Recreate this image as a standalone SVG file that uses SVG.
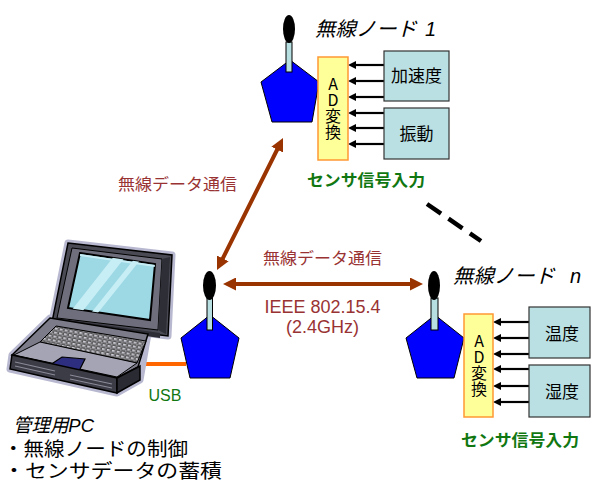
<svg xmlns="http://www.w3.org/2000/svg" width="591" height="487" viewBox="0 0 591 487">
  <style>
    .jp { font-family: "Noto Sans CJK JP", "Liberation Sans", sans-serif; }
    .lat { font-family: "Liberation Sans", "Noto Sans CJK JP", sans-serif; }
    .title { font-size: 20px; font-style: italic; fill: #000; }
    .radio { font-size: 16px; fill: #993333; }
    .sig { font-size: 16px; font-weight: bold; fill: #117711; }
    .sensor { fill: #BBE0E3; stroke: #333; stroke-width: 1.2; }
    .sensor-label { font-size: 17px; fill: #000; text-anchor: middle; }
    .adc { fill: #FFFF99; stroke: #FF9933; stroke-width: 1.5; }
    .adc-label { font-size: 16px; fill: #000; writing-mode: vertical-rl; text-orientation: upright; }
    .body { fill: #0000FF; stroke: #000; stroke-width: 1; }
    .mast { fill: #B7DEE0; stroke: #000; stroke-width: 1; }
    .tip { fill: #000; }
    .sig-line { stroke: #000; stroke-width: 2.2; fill: none; marker-end: url(#sigHead); }
    .link { stroke: #993300; stroke-width: 4; fill: none; marker-start: url(#linkHead); marker-end: url(#linkHead); }
    .pc-text { font-size: 19px; fill: #000; }
  </style>
  <defs>
    <marker id="sigHead" markerUnits="userSpaceOnUse" viewBox="0 0 8 8" markerWidth="8" markerHeight="8" refX="3" refY="4" orient="auto">
      <path d="M0,0 L8,4 L0,8 z" fill="#000"/>
    </marker>
    <marker id="linkHead" markerUnits="userSpaceOnUse" viewBox="0 0 13 13" markerWidth="13" markerHeight="13" refX="4" refY="6.5" orient="auto-start-reverse">
      <path d="M0,0 L13,6.5 L0,13 z" fill="#993300"/>
    </marker>
    <pattern id="keys" width="5" height="4" patternUnits="userSpaceOnUse" patternTransform="rotate(10)">
      <rect width="5" height="4" fill="#D0D0D8"/>
      <rect x="0.6" y="0.6" width="3.6" height="2.6" fill="none" stroke="#333" stroke-width="0.8"/>
    </pattern>
    <clipPath id="screenClip">
      <polygon points="80,253 155,264 150,320 68,308"/>
    </clipPath>
  </defs>

  <!-- radio links -->
  <g id="connectors">
    <line class="link" x1="221" y1="262" x2="279" y2="146"/>
    <line class="link" x1="232" y1="284" x2="414" y2="284"/>
    <line x1="136" y1="364" x2="186" y2="364" stroke="#FF6600" stroke-width="4"/>
    <line x1="427" y1="204" x2="481" y2="241" stroke="#000" stroke-width="4.5" stroke-dasharray="17 9"/>
    <!-- sensor signals into node 1 converter -->
    <line class="sig-line" x1="384" y1="65" x2="353" y2="65"/>
    <line class="sig-line" x1="384" y1="81" x2="353" y2="81"/>
    <line class="sig-line" x1="384" y1="97" x2="353" y2="97"/>
    <line class="sig-line" x1="384" y1="113" x2="353" y2="113"/>
    <line class="sig-line" x1="384" y1="128" x2="353" y2="128"/>
    <line class="sig-line" x1="384" y1="144" x2="353" y2="144"/>
    <!-- sensor signals into node n converter -->
    <line class="sig-line" x1="529" y1="322" x2="498" y2="322"/>
    <line class="sig-line" x1="529" y1="338" x2="498" y2="338"/>
    <line class="sig-line" x1="529" y1="354" x2="498" y2="354"/>
    <line class="sig-line" x1="529" y1="369" x2="498" y2="369"/>
    <line class="sig-line" x1="529" y1="386" x2="498" y2="386"/>
    <line class="sig-line" x1="529" y1="402" x2="498" y2="402"/>
  </g>

  <!-- link labels -->
  <g id="link-labels">
    <text class="jp radio" x="177.5" y="190" text-anchor="middle" textLength="119" lengthAdjust="spacingAndGlyphs">無線データ通信</text>
    <text class="jp radio" x="322.5" y="264" text-anchor="middle" textLength="119" lengthAdjust="spacingAndGlyphs">無線データ通信</text>
    <text class="lat" x="322.5" y="313" text-anchor="middle" font-size="18" fill="#993333">IEEE 802.15.4</text>
    <text class="lat" x="322.5" y="333" text-anchor="middle" font-size="18" fill="#993333">(2.4GHz)</text>
    <text class="lat" x="165" y="401" text-anchor="middle" font-size="16" fill="#117711">USB</text>
  </g>

  <!-- wireless node 1 -->
  <g id="node1">
    <polygon class="body" points="290,60 319,82 312,122 272,122 261,82"/>
    <rect class="mast" x="286" y="42" width="6" height="30"/>
    <ellipse class="tip" cx="289" cy="29" rx="6" ry="14"/>
    <text class="jp title" x="315" y="36" textLength="102" lengthAdjust="spacingAndGlyphs">無線ノード</text>
    <text class="lat title" x="425" y="36">1</text>
    <rect class="adc" x="318" y="57" width="30" height="103"/>
    <text class="jp adc-label" x="333" y="76">AD変換</text>
    <rect class="sensor" x="384" y="51" width="65" height="50"/>
    <text class="jp sensor-label" x="416.5" y="82">加速度</text>
    <rect class="sensor" x="384" y="108" width="65" height="51"/>
    <text class="jp sensor-label" x="416.5" y="140">振動</text>
    <text class="jp sig" x="366" y="186" text-anchor="middle" textLength="118" lengthAdjust="spacingAndGlyphs">センサ信号入力</text>
  </g>

  <!-- wireless node n -->
  <g id="nodeN">
    <polygon class="body" points="435,315 464,338 454,378 417,378 406,338"/>
    <rect class="mast" x="431" y="298" width="7" height="32"/>
    <ellipse class="tip" cx="434" cy="285.5" rx="6" ry="14.5"/>
    <text class="jp title" x="453" y="283" textLength="102" lengthAdjust="spacingAndGlyphs">無線ノード</text>
    <text class="lat title" x="570" y="283">n</text>
    <rect class="adc" x="464" y="314" width="29" height="103"/>
    <text class="jp adc-label" x="479" y="333">AD変換</text>
    <rect class="sensor" x="529" y="307" width="61" height="51"/>
    <text class="jp sensor-label" x="562" y="340">温度</text>
    <rect class="sensor" x="529" y="365" width="61" height="52"/>
    <text class="jp sensor-label" x="562" y="398">湿度</text>
    <text class="jp sig" x="520" y="446" text-anchor="middle" textLength="118" lengthAdjust="spacingAndGlyphs">センサ信号入力</text>
  </g>

  <!-- base-station node attached to the PC -->
  <g id="node0">
    <polygon class="body" points="210,315 239,338 230,378 190,378 181,338"/>
    <rect class="mast" x="207" y="298" width="5.5" height="32"/>
    <ellipse class="tip" cx="209.5" cy="285.5" rx="6.5" ry="14.5"/>
  </g>

  <!-- management PC -->
  <g id="pc">
    <!-- soft halo around the clip art -->
    <g fill="#B8B8D0" stroke="#B8B8D0" stroke-width="7" stroke-linejoin="round">
      <polygon points="68,243 172,255 168,336 52,322"/>
      <polygon points="50,318 148,334 140,380 117,393 10,369 12,355"/>
    </g>
    <!-- lid -->
    <polygon points="68,243 172,255 168,336 52,322" fill="#4A4A55" stroke="#000" stroke-width="1.5"/>
    <polygon points="72,248 162,259 158,330 57,318" fill="#6E6E7C" stroke="#000" stroke-width="1"/>
    <polygon points="162,259 170,257 166,334 158,330" fill="#2E2E36"/>
    <polygon points="80,253 155,264 150,320 68,308" fill="#9DD8E5" stroke="#000" stroke-width="2"/>
    <g clip-path="url(#screenClip)" fill="#C8EEF5">
      <polygon points="115,255 126,256 82,312 71,311"/>
      <polygon points="135,258 141,259 97,314 91,313"/>
      <polygon points="80,254 155,265 155,267 80,256"/>
    </g>
    <!-- hinge -->
    <polygon points="55,318 160,333 160,338 53,323" fill="#2E2E36"/>
    <!-- deck -->
    <polygon points="50,318 148,334 138,367 117,378 12,355" fill="#7B7B8A" stroke="#000" stroke-width="1.5"/>
    <polygon points="56,326 146,341 137,363 40,342" fill="url(#keys)" stroke="#000" stroke-width="1"/>
    <polygon points="40,342 137,363 117,377 14,355" fill="#A4A4B4" stroke="#000" stroke-width="1"/>
    <polygon points="62,357 85,359 78,373 50,365" fill="#2E2E80" stroke="#000" stroke-width="1.2"/>
    <!-- front and side faces -->
    <polygon points="12,355 117,378 117,393 10,369" fill="#3C3C46" stroke="#000" stroke-width="1.5"/>
    <polygon points="117,378 140,366 140,380 117,393" fill="#2A2A32" stroke="#000" stroke-width="1.5"/>
    <g stroke="#8A8A98" stroke-width="1.2">
      <line x1="15" y1="362" x2="55" y2="371"/>
      <line x1="70" y1="375" x2="112" y2="384"/>
      <line x1="15" y1="366" x2="55" y2="375"/>
      <line x1="70" y1="379" x2="112" y2="388"/>
    </g>
    <text class="lat pc-text" x="13" y="432" font-style="italic" textLength="81" lengthAdjust="spacingAndGlyphs">管理用PC</text>
    <text class="lat pc-text" x="3" y="456" textLength="185" lengthAdjust="spacingAndGlyphs">・無線ノードの制御</text>
    <text class="lat pc-text" x="3" y="478" textLength="219" lengthAdjust="spacingAndGlyphs">・センサデータの蓄積</text>
  </g>
</svg>
